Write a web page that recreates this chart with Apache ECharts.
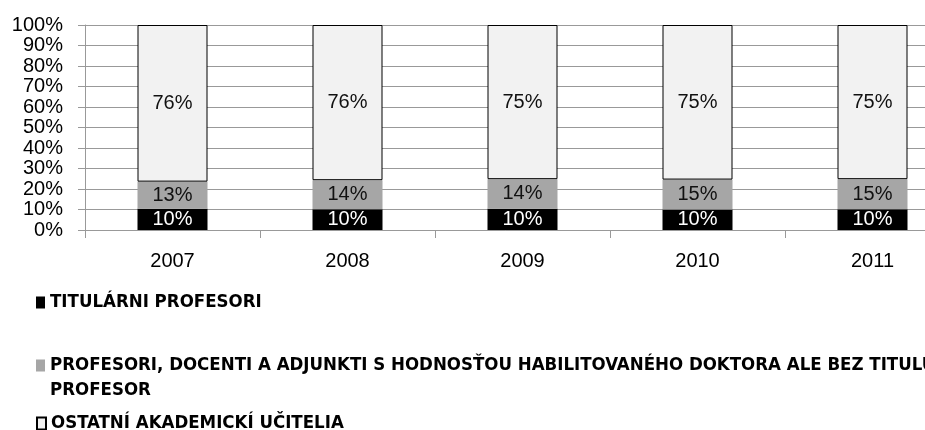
<!DOCTYPE html>
<html>
<head>
<meta charset="utf-8">
<script src="https://cdn.jsdelivr.net/npm/echarts@6/dist/echarts.min.js"></script>
<style>
  html, body { margin: 0; padding: 0; background: #fff; }
  #chart { width: 925px; height: 430px; }
</style>
</head>
<body>
<div id="chart"></div>
<script>
const years = ["2007", "2008", "2009", "2010", "2011"];
const seriesNames = [
  "TITULÁRNI PROFESORI",
  "PROFESORI, DOCENTI A ADJUNKTI S HODNOSŤOU HABILITOVANÉHO DOKTORA ALE BEZ TITULU PROFESOR",
  "OSTATNÍ AKADEMICKÍ UČITELIA",
];
// share of each group, %
const titularProfs = [10.4, 10.1, 10.4, 10.0, 10.1];
const habilitated = [13.2, 14.2, 14.4, 14.6, 14.7];
const otherTeachers = [76.4, 75.7, 75.2, 75.4, 75.2];
const yTicks = [0, 10, 20, 30, 40, 50, 60, 70, 80, 90, 100];

const chart = echarts.init(document.getElementById("chart"));

const labelFont = "'Liberation Sans', Arial, sans-serif";
const legendFont = "'DejaVu Sans Condensed', 'Liberation Sans Narrow', sans-serif";

function pct(p) {
  return Math.round(p.value) + "%";
}

function barLabel(color) {
  return {
    show: true,
    position: "inside",
    formatter: pct,
    fontFamily: labelFont,
    fontSize: 20,
    color: color,
  };
}

function legendAt(name, top, tall) {
  return {
    data: [name],
    orient: "vertical",
    left: 36,
    top: top,
    padding: 0,
    itemWidth: 9,
    itemHeight: tall ? 37 : 12,
    // the wrapped item keeps its marker beside the first line
    icon: tall ? "path://M0,0L9,0L9,12L0,12Z M0,37L0.01,37L0,37Z" : "rect",
    selectedMode: false,
    formatter: (n) =>
      n === seriesNames[1]
        ? "PROFESORI, DOCENTI A ADJUNKTI S HODNOSŤOU HABILITOVANÉHO DOKTORA ALE BEZ TITULU\nPROFESOR"
        : n,
    textStyle: {
      fontFamily: legendFont,
      fontWeight: "bold",
      fontSize: 18.5,
      lineHeight: 25,
      color: "#000",
    },
  };
}

chart.setOption({
  animation: false,
  grid: {
    left: 85,
    right: -35,
    top: 25,
    bottom: 200,
    outerBoundsMode: "none",
  },
  legend: [
    legendAt(seriesNames[0], 290),
    legendAt(seriesNames[1], 353, true),
    legendAt(seriesNames[2], 411),
  ],
  xAxis: {
    type: "category",
    data: years,
    axisLine: { lineStyle: { color: "#999", width: 1 } },
    axisTick: { show: true, interval: 0, length: 8, lineStyle: { color: "#999" } },
    axisLabel: {
      margin: 21,
      fontFamily: labelFont,
      fontSize: 20,
      color: "#000",
    },
  },
  yAxis: {
    type: "value",
    min: yTicks[0],
    max: yTicks[yTicks.length - 1],
    interval: 10,
    axisLine: { show: true, lineStyle: { color: "#999", width: 1 } },
    axisTick: { show: true, length: 7, lineStyle: { color: "#999" } },
    axisLabel: {
      margin: 22,
      formatter: "{value}%",
      fontFamily: labelFont,
      fontSize: 20,
      lineHeight: 20,
      color: "#000",
    },
    splitLine: { lineStyle: { color: "#999", width: 1 } },
  },
  series: [
    {
      name: seriesNames[0],
      type: "bar",
      stack: "total",
      barWidth: 70,
      data: titularProfs,
      itemStyle: { color: "#000" },
      label: barLabel("#fff"),
    },
    {
      name: seriesNames[1],
      type: "bar",
      stack: "total",
      barWidth: 70,
      data: habilitated,
      itemStyle: { color: "#a6a6a6" },
      label: barLabel("#111"),
    },
    {
      name: seriesNames[2],
      type: "bar",
      stack: "total",
      barWidth: 70,
      data: otherTeachers,
      itemStyle: { color: "#f2f2f2", borderColor: "#000", borderWidth: 1 },
      label: barLabel("#111"),
    },
  ],
});

window.addEventListener("resize", () => chart.resize());
</script>
</body>
</html>
